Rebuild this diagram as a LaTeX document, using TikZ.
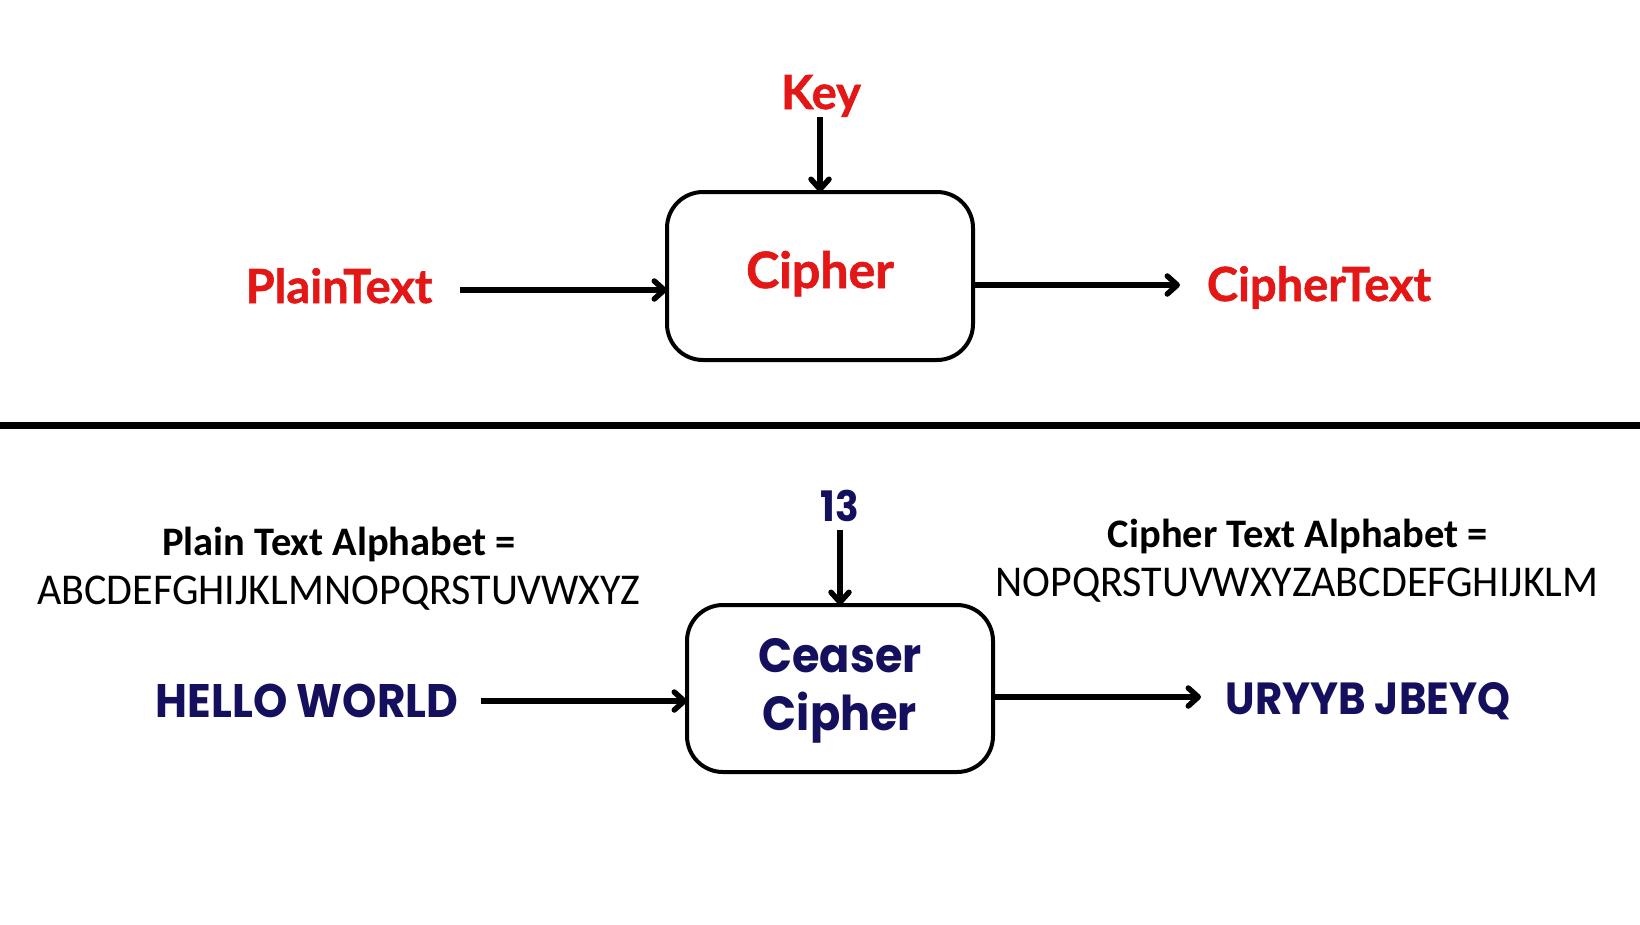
\documentclass[tikz,border=0pt]{standalone}
\usepackage{fontspec}
\usetikzlibrary{arrows.meta}
\setmainfont{Lato}[BoldFeatures={FakeBold=1.2}]
\newfontfamily\geofont{Poppins}[FakeStretch=0.93]
\newfontfamily\narrowfont{Carlito}
\newfontfamily\narrowbody{Carlito}[FakeStretch=0.955]
\definecolor{cred}{HTML}{E41717}
\definecolor{cnavy}{HTML}{15105E}
\tikzset{
  lbl/.style={anchor=base, inner sep=0pt, outer sep=0pt},
  redlbl/.style={lbl, text=cred, font=\bfseries\fontsize{47}{50}\selectfont},
  navylbl/.style={lbl, text=cnavy, font=\geofont\bfseries\fontsize{47}{50}\selectfont},
  boxlbl/.style={lbl, text=cnavy, font=\geofont\bfseries\fontsize{48}{58}\selectfont},
  alphahead/.style={lbl, font=\narrowfont\bfseries\fontsize{40.5}{44}\selectfont},
  alphabody/.style={lbl, font=\narrowbody\fontsize{44}{48}\selectfont},
  cbox/.style={draw=black, line width=4pt, rounded corners=36pt, fill=white},
  flow/.style={draw=black, line width=5.5pt, -{Straight Barb[length=10pt,width=18pt,round]}}
}
\begin{document}
\begin{tikzpicture}[x=1pt,y=-1pt]
\useasboundingbox[fill=white] (0,0) rectangle (1640,924);
% ---------- top ----------
\path[cbox] (667,192) rectangle (973,360);
\node[redlbl, font=\bfseries\fontsize{50}{54}\selectfont] (ciphA) at (820,288) {Cipher};
\node[redlbl] (key) at (821,109) {Key};
\coordinate (keyS) at (820,117);
\coordinate (keyT) at (820,192);
\draw[flow] (keyS) -- (keyT);
\node[redlbl] (plain) at (339,303) {PlainText};
\coordinate (pS) at (460,290);
\coordinate (pT) at (667,290);
\draw[flow] (pS) -- (pT);
\coordinate (cS) at (973,285);
\coordinate (cT) at (1180,285);
\draw[flow] (cS) -- (cT);
\node[redlbl] (ctext) at (1319,301) {CipherText};
% ---------- divider ----------
\coordinate (dL) at (0,425);
\coordinate (dR) at (1640,425);
\draw[line width=7pt] (dL) -- (dR);
% ---------- bottom ----------
\path[cbox] (687,605) rectangle (993,772);
\node[boxlbl] (ceaser) at (840,672) {Ceaser};
\node[boxlbl] (ciphB) at (840,730) {Cipher};
\node[navylbl, font=\geofont\bfseries\fontsize{42}{46}\selectfont] (thirteen) at (840,521) {13};
\coordinate (tS) at (840,530);
\coordinate (tT) at (840,605);
\draw[flow] (tS) -- (tT);
\node[navylbl] (hello) at (307,717) {HELLO WORLD};
\coordinate (hS) at (481,701);
\coordinate (hT) at (687,701);
\draw[flow] (hS) -- (hT);
\coordinate (uS) at (993,697);
\coordinate (uT) at (1201,697);
\draw[flow] (uS) -- (uT);
\node[navylbl, font=\geofont\bfseries\fontsize{45}{50}\selectfont] (uryyb) at (1368,714) {URYYB JBEYQ};
\node[alphahead] (pta) at (339,555) {Plain Text Alphabet =};
\node[alphabody] (ptb) at (339,604) {ABCDEFGHIJKLMNOPQRSTUVWXYZ};
\node[alphahead] (cta) at (1298,547) {Cipher Text Alphabet =};
\node[alphabody] (ctb) at (1297,596) {NOPQRSTUVWXYZABCDEFGHIJKLM};
\end{tikzpicture}
\end{document}
